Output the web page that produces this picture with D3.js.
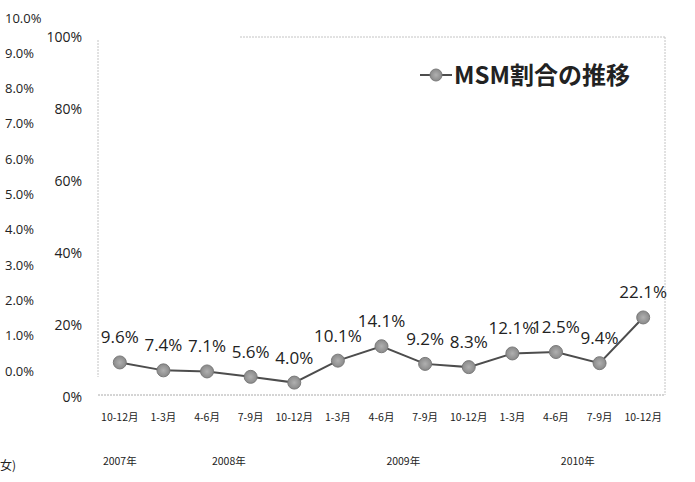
<!DOCTYPE html>
<html>
<head>
<meta charset="utf-8">
<script src="https://cdn.jsdelivr.net/npm/d3@7"></script>
<style>
  body { margin: 0; background: #fff; }
  svg { display: block; }
</style>
</head>
<body>
<div id="chart"></div>
<script>
'use strict';

// quarters, 2007 Q4 .. 2010 Q4
const quarters = ['10-12月', '1-3月', '4-6月', '7-9月', '10-12月', '1-3月', '4-6月',
  '7-9月', '10-12月', '1-3月', '4-6月', '7-9月', '10-12月']
const msmShare = [9.6, 7.4, 7.1, 5.6, 4.0, 10.1, 14.1, 9.2, 8.3, 12.1, 12.5, 9.4, 22.1]
const years = ['2007年', '2008年', '2009年', '2010年']
const yearAt = [0, 2.5, 6.5, 10.5] // position in quarter units
const innerTicks = [0, 20, 40, 60, 80, 100]
const outerTicks = [0, 1, 2, 3, 4, 5, 6, 7, 8, 9, 10]
const seriesName = 'MSM割合の推移'

const width = 695
const height = 482
const font = '"Open Sans", "Noto Sans CJK JP", sans-serif'
const jpFont = '"Noto Sans CJK JP", "Noto Sans", sans-serif'

const dims = { left: 98, right: 665, top: 37, bottom: 397 }

const svg = d3.select('#chart')
  .append('svg')
  .attr('width', width)
  .attr('height', height)

// x scale (bands for quarters)
const xScale = d3.scaleBand()
  .domain(d3.range(quarters.length))
  .range([dims.left, dims.right])
const xMid = i => xScale(i) + xScale.bandwidth() / 2
const xPos = d3.scaleLinear()
  .domain([0, quarters.length - 1])
  .range([xMid(0), xMid(quarters.length - 1)])

// y scale
const yScale = d3.scaleLinear()
  .domain([0, 100])
  .range([dims.bottom, dims.top])

// outer (leftover) axis 0.0%..10.0%
const yOuter = d3.scaleLinear()
  .domain([0, 10])
  .range([371, 18])

// plot area frame
const frame = svg.append('g')
  .attr('fill', 'none')
  .attr('stroke', '#c4c4c4')
  .attr('stroke-width', 1)
  .attr('stroke-dasharray', '2,1')
frame.append('line')
  .attr('x1', dims.left).attr('x2', dims.left)
  .attr('y1', dims.top + 3).attr('y2', 377)
frame.append('line')
  .attr('x1', 240).attr('x2', dims.right)
  .attr('y1', dims.top).attr('y2', dims.top)
frame.append('line')
  .attr('x1', dims.right).attr('x2', dims.right)
  .attr('y1', dims.top).attr('y2', dims.bottom - 2)
frame.append('line')
  .attr('x1', dims.left).attr('x2', dims.right)
  .attr('y1', dims.bottom - 2).attr('y2', dims.bottom - 2)
  .attr('stroke', '#aaa')

// outer axis labels
svg.append('g')
  .selectAll('text')
  .data(outerTicks)
  .join('text')
  .attr('x', 5)
  .attr('y', d => yOuter(d))
  .attr('dy', '0.35em')
  .style('font-family', font)
  .style('font-size', '13px')
  .attr('fill', '#222')
  .text(d => d.toFixed(1) + '%')

// inner y axis
const yAxis = d3.axisLeft(yScale)
  .tickValues(innerTicks)
  .tickSize(0)
  .tickFormat(d => d + '%')
const yAxisGroup = svg.append('g')
  .attr('transform', 'translate(82,0)')
  .call(yAxis)
yAxisGroup.select('.domain').remove()
yAxisGroup.selectAll('text')
  .attr('x', 0)
  .style('font-family', font)
  .style('font-size', '14px')
  .attr('fill', '#222')

// x axis (quarters)
const xAxis = d3.axisBottom(xScale)
  .tickSize(0)
  .tickFormat(i => quarters[i])
const xAxisGroup = svg.append('g')
  .attr('transform', 'translate(0,411)')
  .call(xAxis)
xAxisGroup.select('.domain').remove()
xAxisGroup.selectAll('text')
  .style('font-family', jpFont)
  .style('font-size', '10.5px')
  .attr('fill', '#222')

// year labels
svg.append('g')
  .selectAll('text')
  .data(years)
  .join('text')
  .attr('x', (d, i) => xPos(yearAt[i]))
  .attr('y', 465)
  .attr('text-anchor', 'middle')
  .style('font-family', jpFont)
  .style('font-size', '10.5px')
  .attr('fill', '#222')
  .text(d => d)

// leftover label at far left
svg.append('text')
  .attr('x', 0)
  .attr('y', 470)
  .style('font-family', jpFont)
  .style('font-size', '12px')
  .attr('fill', '#222')
  .text('女)')

// marker gradient
const defs = svg.append('defs')
const grad = defs.append('radialGradient').attr('id', 'dot')
grad.append('stop').attr('offset', '0%').attr('stop-color', '#b0b0b0')
grad.append('stop').attr('offset', '100%').attr('stop-color', '#8a8a8a')

// line
const line = d3.line()
  .x((d, i) => xMid(i))
  .y(d => yScale(d))
svg.append('path')
  .datum(msmShare)
  .attr('d', line)
  .attr('fill', 'none')
  .attr('stroke', '#4d4d4d')
  .attr('stroke-width', 2)

// points
svg.append('g')
  .selectAll('circle')
  .data(msmShare)
  .join('circle')
  .attr('cx', (d, i) => xMid(i))
  .attr('cy', d => yScale(d))
  .attr('r', 6.5)
  .attr('fill', 'url(#dot)')
  .attr('stroke', '#7a7a7a')
  .attr('stroke-width', 1)

// data labels
svg.append('g')
  .selectAll('text')
  .data(msmShare)
  .join('text')
  .attr('x', (d, i) => xMid(i))
  .attr('y', d => yScale(d) - 19)
  .attr('text-anchor', 'middle')
  .style('font-family', font)
  .style('font-size', '17px')
  .attr('fill', '#222')
  .text(d => d.toFixed(1) + '%')

// legend
const legend = svg.append('g')
  .attr('transform', 'translate(420,75)')
legend.append('line')
  .attr('x1', 0).attr('x2', 32)
  .attr('y1', 0).attr('y2', 0)
  .attr('stroke', '#4d4d4d')
  .attr('stroke-width', 2)
legend.append('circle')
  .attr('cx', 16).attr('cy', 0).attr('r', 6)
  .attr('fill', 'url(#dot)')
  .attr('stroke', '#7a7a7a')
legend.append('text')
  .attr('x', 34)
  .attr('y', 0)
  .attr('dy', '0.36em')
  .style('font-family', jpFont)
  .style('font-size', '24px')
  .style('font-weight', 'bold')
  .attr('fill', '#222')
  .text(seriesName)
</script>
</body>
</html>
